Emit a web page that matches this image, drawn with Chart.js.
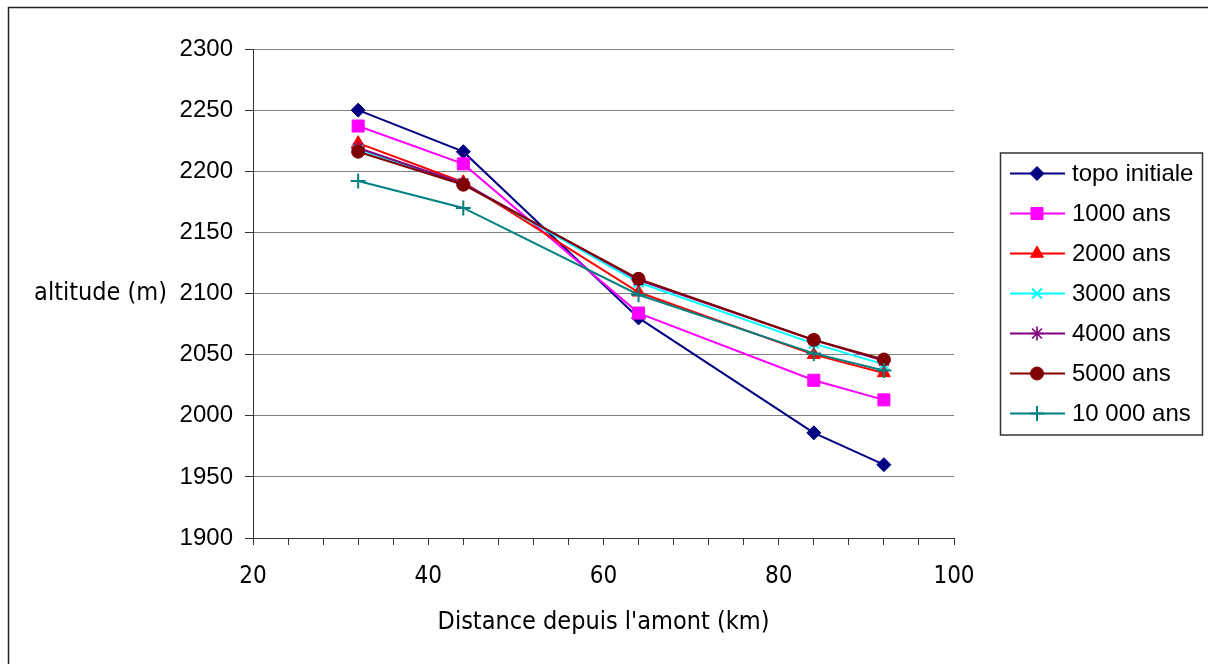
<!DOCTYPE html>
<html>
<head>
<meta charset="utf-8">
<script src="https://cdn.jsdelivr.net/npm/chart.js@4/dist/chart.umd.min.js"></script>
<style>
  html, body { margin: 0; padding: 0; background: #ffffff; }
  #wrap { width: 1208px; height: 664px; position: relative; }
  canvas { display: block; }
</style>
</head>
<body>
<div id="wrap"><canvas id="c" width="1208" height="664"></canvas></div>
<script>
// ---- data ----
const distances = [32, 44, 64, 84, 92];
const seriesNames = ["topo initiale", "1000 ans", "2000 ans", "3000 ans", "4000 ans", "5000 ans", "10 000 ans"];
const topoInitiale = [2250, 2216, 2080, 1986, 1960];
const ans1000 = [2237, 2206, 2084, 2029, 2013];
const ans2000 = [2223, 2191, 2101, 2050, 2035];
const ans3000 = [2218, 2190, 2109, 2059, 2042];
const ans4000 = [2219, 2190, 2111, 2062, 2045];
const ans5000 = [2216, 2189, 2112, 2062, 2046];
const ans10000 = [2192, 2170, 2099, 2051, 2037];
const xTickLabels = [20, 40, 60, 80, 100];
const yTickLabels = [1900, 1950, 2000, 2050, 2100, 2150, 2200, 2250, 2300];

const seriesValues = [topoInitiale, ans1000, ans2000, ans3000, ans4000, ans5000, ans10000];
const colors = ["#000080", "#FF00FF", "#FF0000", "#00FFFF", "#800080", "#800000", "#008080"];
const styles = ["rectRot", "rect", "triangle", "crossRot", "star", "circle", "cross"];
const radii = [7, 8.5, 7.5, 7, 7, 6.5, 7.5];
const pBorder = [1, 1, 1, 2, 1.6, 1, 2];

const condensed = "'DejaVu Sans Condensed', 'Liberation Sans Narrow', 'Liberation Sans', sans-serif";
const arial = "'Liberation Sans', Arial, sans-serif";

const datasets = seriesValues.map((vals, i) => ({
  label: seriesNames[i],
  data: vals.map((v, k) => ({ x: distances[k], y: v })),
  borderColor: colors[i],
  backgroundColor: colors[i],
  borderWidth: 2,
  pointStyle: styles[i],
  pointRadius: radii[i],
  pointBorderWidth: pBorder[i],
  pointBackgroundColor: colors[i],
  pointBorderColor: colors[i],
  tension: 0,
  order: seriesValues.length - i
}));

const framePlugin = {
  id: 'frame',
  beforeDraw(chart) {
    const ctx = chart.ctx;
    ctx.save();
    ctx.fillStyle = '#ffffff';
    ctx.fillRect(0, 0, chart.width, chart.height);
    ctx.strokeStyle = '#222222';
    ctx.lineWidth = 1.5;
    ctx.beginPath();
    ctx.moveTo(8.5, chart.height + 5);
    ctx.lineTo(8.5, 7.5);
    ctx.lineTo(chart.width + 5, 7.5);
    ctx.stroke();
    ctx.restore();
  }
};

const yTitlePlugin = {
  id: 'ytitle',
  afterDraw(chart) {
    const ctx = chart.ctx;
    const ca = chart.chartArea;
    ctx.save();
    ctx.font = "25px " + condensed;
    ctx.fillStyle = '#000000';
    ctx.textAlign = 'right';
    ctx.textBaseline = 'middle';
    ctx.fillText('altitude (m)', ca.left - 86, (ca.top + ca.bottom) / 2);
    ctx.restore();
  }
};

function drawMarker(ctx, style, r, bw, x, y) {
  if (Chart.helpers && Chart.helpers.drawPoint) {
    Chart.helpers.drawPoint(ctx, { pointStyle: style, radius: r, rotation: 0, borderWidth: bw }, x, y);
  } else {
    ctx.beginPath(); ctx.arc(x, y, r, 0, Math.PI * 2); ctx.fill(); ctx.stroke();
  }
}

const legendPlugin = {
  id: 'customLegend',
  afterDraw(chart) {
    const ctx = chart.ctx;
    const ca = chart.chartArea;
    const boxW = 202, rowH = 40, boxH = rowH * seriesNames.length + 2;
    const left = ca.right + 46;
    const top = (ca.top + ca.bottom) / 2 - boxH / 2;
    ctx.save();
    ctx.strokeStyle = '#333333';
    ctx.lineWidth = 1.5;
    ctx.strokeRect(left + 0.5, top + 0.5, boxW, boxH);
    chart.data.datasets.forEach((ds, i) => {
      const y = top + 21 + rowH * i;
      ctx.strokeStyle = ds.borderColor;
      ctx.lineWidth = 2;
      ctx.beginPath();
      ctx.moveTo(left + 10, y);
      ctx.lineTo(left + 65, y);
      ctx.stroke();
      ctx.fillStyle = ds.pointBackgroundColor;
      ctx.strokeStyle = ds.pointBorderColor;
      ctx.lineWidth = ds.pointBorderWidth;
      drawMarker(ctx, ds.pointStyle, ds.pointRadius, ds.pointBorderWidth, left + 37, y);
      ctx.fillStyle = '#000000';
      ctx.font = "24px " + arial;
      ctx.textAlign = 'left';
      ctx.textBaseline = 'middle';
      ctx.fillText(ds.label, left + 72, y + 1);
    });
    ctx.restore();
  }
};

new Chart(document.getElementById('c'), {
  type: 'line',
  data: { datasets },
  options: {
    responsive: false,
    animation: false,
    events: [],
    layout: { padding: { top: 49, right: 254, left: 0, bottom: 0 } },
    plugins: { legend: { display: false }, tooltip: { enabled: false } },
    scales: {
      x: {
        type: 'linear',
        min: xTickLabels[0],
        max: xTickLabels[xTickLabels.length - 1],
        afterBuildTicks(scale) {
          const t = [];
          for (let v = xTickLabels[0]; v <= xTickLabels[xTickLabels.length - 1]; v += 4) t.push({ value: v });
          scale.ticks = t;
        },
        afterFit(scale) { scale.height = 126; },
        grid: { drawOnChartArea: false, tickLength: 7, color: '#333333', tickColor: '#333333', lineWidth: 1 },
        border: { display: true, color: '#333333', width: 1 },
        ticks: {
          autoSkip: false,
          maxRotation: 0,
          padding: 17,
          color: '#000000',
          font: { family: condensed, size: 24 },
          callback: (v) => (xTickLabels.includes(v) ? String(v) : '')
        },
        title: {
          display: true,
          text: "Distance depuis l'amont (km)",
          color: '#000000',
          font: { family: condensed, size: 25 },
          padding: { top: 0, bottom: 27 }
        }
      },
      y: {
        type: 'linear',
        min: yTickLabels[0],
        max: yTickLabels[yTickLabels.length - 1],
        afterBuildTicks(scale) { scale.ticks = yTickLabels.map(v => ({ value: v })); },
        afterFit(scale) { scale.width = 253; },
        grid: { drawOnChartArea: true, color: '#808080', tickColor: '#333333', tickLength: 8, lineWidth: 1 },
        border: { display: true, color: '#333333', width: 1 },
        ticks: {
          padding: 12,
          color: '#000000',
          font: { family: arial, size: 24 },
          callback: (v) => String(v)
        }
      }
    }
  },
  plugins: [framePlugin, yTitlePlugin, legendPlugin]
});
</script>
</body>
</html>
